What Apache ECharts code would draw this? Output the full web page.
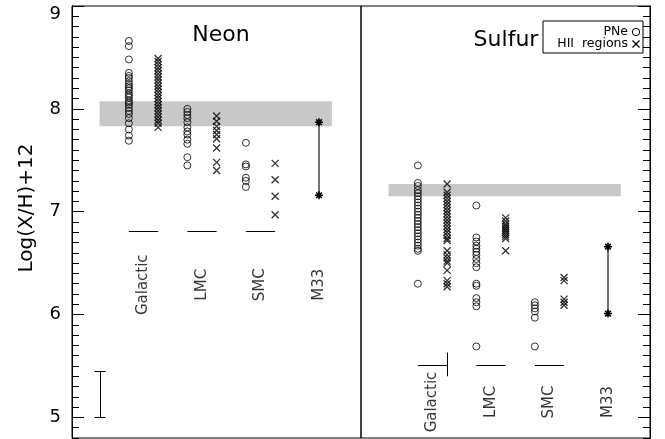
<!DOCTYPE html>
<html><head><meta charset="utf-8">
<script src="https://cdn.jsdelivr.net/npm/echarts@6/dist/echarts.min.js"></script>
<style>html,body{margin:0;padding:0;background:#fff}#c{width:665px;height:439px}</style>
</head><body><div id="c"></div>
<script>
// ---------- data ----------
const groups = ['Galactic', 'LMC', 'SMC', 'M33'];
const yTickLabels = [5, 6, 7, 8, 9];

// Neon panel
const neGalPNe = [8.66, 8.61, 8.48, 8.35, 8.32, 8.30, 8.27, 8.24, 8.22, 8.20, 8.18, 8.15, 8.13, 8.11, 8.08, 8.06, 8.04, 8.01, 7.98, 7.95, 7.91, 7.86, 7.80, 7.74, 7.69];
const neGalHII = [8.49, 8.46, 8.43, 8.40, 8.37, 8.34, 8.31, 8.28, 8.25, 8.22, 8.19, 8.16, 8.13, 8.10, 8.07, 8.04, 8.01, 7.98, 7.95, 7.92, 7.89, 7.86, 7.82];
const neLMCPNe = [8.00, 7.97, 7.94, 7.91, 7.87, 7.82, 7.78, 7.75, 7.70, 7.66, 7.53, 7.45];
const neLMCHII = [7.93, 7.88, 7.83, 7.79, 7.75, 7.71, 7.62, 7.48, 7.40];
const neSMCPNe = [7.67, 7.46, 7.44, 7.33, 7.30, 7.24];
const neSMCHII = [7.47, 7.31, 7.15, 6.97];
const neM33 = [7.16, 7.87];
const neBand = [7.83, 8.075];

// Sulfur panel
const sGalPNe = [7.45, 7.28, 7.25, 7.21, 7.18, 7.15, 7.12, 7.09, 7.06, 7.03, 7.00, 6.97, 6.94, 6.91, 6.88, 6.85, 6.82, 6.79, 6.76, 6.73, 6.70, 6.67, 6.64, 6.62, 6.30];
const sGalHII = [7.27, 7.19, 7.16, 7.13, 7.10, 7.07, 7.04, 7.01, 6.98, 6.95, 6.92, 6.89, 6.86, 6.83, 6.80, 6.77, 6.74, 6.72, 6.62, 6.58, 6.55, 6.52, 6.50, 6.43, 6.33, 6.30, 6.27];
const sLMCPNe = [7.06, 6.75, 6.71, 6.67, 6.64, 6.61, 6.58, 6.54, 6.50, 6.46, 6.30, 6.28, 6.16, 6.12, 6.08, 5.69];
const sLMCHII = [6.94, 6.91, 6.88, 6.86, 6.84, 6.82, 6.80, 6.78, 6.76, 6.74, 6.62];
const sSMCPNe = [6.12, 6.09, 6.06, 6.03, 5.97, 5.69];
const sSMCHII = [6.36, 6.33, 6.15, 6.12, 6.09];
const sM33 = [6.01, 6.66];
const sBand = [7.15, 7.27];

const errBar = [5.0, 5.45];
const neBaseline = 6.81;
const sBaseline = 5.51;

// ---------- layout / style config ----------
const FONT = 'DejaVu Sans';
const X_MIN = -0.222, X_MAX = 4.718;
const OFF = 0.25;
const BAND_X = [0.25, 4.22];
const ERR_X = 0.257, CAP = 0.095;
const LABEL_Y = [6.29, 5.15];
const Y_MIN = 4.8, Y_MAX = 9;
const minorTicks = [];
for (let i = 48; i <= 90; i++) { if (i % 10 !== 0) minorTicks.push(i / 10); }

const crossPath = 'path://M0,0L10,10M10,0L0,10';
const starPath = 'path://M0,5L10,5M5,0L5,10M1.5,1.5L8.5,8.5M8.5,1.5L1.5,8.5';

function pts(vals, g, off) { return vals.map(v => [g + 1 + off, v]); }

function circles(vals, g, panel) {
  return { type: 'scatter', xAxisIndex: panel, yAxisIndex: panel, z: 3,
    symbol: 'circle', symbolSize: 7,
    itemStyle: { color: 'rgba(0,0,0,0)', borderColor: '#000', borderWidth: 1 },
    data: pts(vals, g, -OFF) };
}
function crosses(vals, g, panel) {
  return { type: 'scatter', xAxisIndex: panel, yAxisIndex: panel, z: 3,
    symbol: crossPath, symbolSize: 7,
    itemStyle: { color: 'rgba(0,0,0,0)', borderColor: '#000', borderWidth: 1.3 },
    data: pts(vals, g, OFF) };
}
function m33(vals, panel, band, baseline, extra) {
  const lines = [0, 1, 2].map(g => [{ coord: [g + 1 - OFF, baseline] }, { coord: [g + 1 + OFF, baseline] }]);
  return { type: 'line', xAxisIndex: panel, yAxisIndex: panel, z: 3,
    symbol: starPath, symbolSize: 8, showSymbol: true,
    lineStyle: { color: '#444', width: 1.5 },
    itemStyle: { color: '#000', borderColor: '#000', borderWidth: 1.6 },
    data: vals.map(v => [4, v]),
    markArea: { silent: true, z: 1, itemStyle: { color: '#c8c8c8' },
      data: [[{ coord: [BAND_X[0], band[0]] }, { coord: [BAND_X[1], band[1]] }]] },
    markLine: { silent: true, symbol: ['none', 'none'], label: { show: false },
      lineStyle: { color: '#000', width: 1, type: 'solid' },
      data: lines.concat(extra) }
  };
}
function labels(panel) {
  return { type: 'scatter', xAxisIndex: panel, yAxisIndex: panel, z: 4,
    symbolSize: 1, itemStyle: { color: 'rgba(0,0,0,0)' },
    label: { show: true, position: 'inside', rotate: 90, formatter: '{b}',
      fontFamily: FONT, fontSize: 15, color: '#000', align: 'center', verticalAlign: 'middle' },
    data: groups.map((n, g) => ({ name: n, value: [g + 1, LABEL_Y[panel]] })) };
}

const errLines = [
  [{ coord: [ERR_X, errBar[0]] }, { coord: [ERR_X, errBar[1]] }],
  [{ coord: [ERR_X - CAP, errBar[0]] }, { coord: [ERR_X + CAP, errBar[0]] }],
  [{ coord: [ERR_X - CAP, errBar[1]] }, { coord: [ERR_X + CAP, errBar[1]] }]
];
const galTick = [[{ coord: [1 + OFF, 5.40] }, { coord: [1 + OFF, 5.63] }]];

function majorAxis(grid, pos, showLabel) {
  return { gridIndex: grid, type: 'value', min: Y_MIN, max: Y_MAX, position: pos,
    axisLine: { show: true, onZero: false, lineStyle: { color: '#000' } },
    axisTick: { show: true, inside: false, length: -12, customValues: yTickLabels, lineStyle: { color: '#000' } },
    axisLabel: { show: showLabel, customValues: yTickLabels, margin: 11, fontFamily: FONT, fontSize: 18, color: '#000',
      formatter: v => (v === 9 ? '{t|9}' : String(v)),
      rich: { t: { padding: [16, 0, 0, 0], fontFamily: FONT, fontSize: 18, color: '#000' } } },
    splitLine: { show: false } };
}
function minorAxis(grid, pos) {
  return { gridIndex: grid, type: 'value', min: Y_MIN, max: Y_MAX, position: pos,
    axisLine: { show: true, onZero: false, lineStyle: { color: '#000' } },
    axisTick: { show: true, inside: false, length: -7, customValues: minorTicks, lineStyle: { color: '#000' } },
    axisLabel: { show: false }, splitLine: { show: false } };
}

const gridBox = (left, show) => ({ left: left, top: 6, width: 289, height: 432, show: show, borderColor: '#000', borderWidth: 1 });

const option = {
  animation: false,
  grid: [gridBox(72, true), gridBox(361, true), gridBox(72, false), gridBox(361, false)],
  xAxis: [0, 1, 2, 3].map(i => ({ gridIndex: i, type: 'value', min: X_MIN, max: X_MAX, show: false })),
  yAxis: [majorAxis(0, 'left', true), majorAxis(1, 'right', false), minorAxis(2, 'left'), minorAxis(3, 'right')],
  series: [
    m33(neM33, 0, neBand, neBaseline, errLines),
    circles(neGalPNe, 0, 0), crosses(neGalHII, 0, 0),
    circles(neLMCPNe, 1, 0), crosses(neLMCHII, 1, 0),
    circles(neSMCPNe, 2, 0), crosses(neSMCHII, 2, 0),
    labels(0),
    m33(sM33, 1, sBand, sBaseline, galTick),
    circles(sGalPNe, 0, 1), crosses(sGalHII, 0, 1),
    circles(sLMCPNe, 1, 1), crosses(sLMCHII, 1, 1),
    circles(sSMCPNe, 2, 1), crosses(sSMCHII, 2, 1),
    labels(1),
    { type: 'scatter', xAxisIndex: 2, yAxisIndex: 2, symbolSize: 0, data: [] },
    { type: 'scatter', xAxisIndex: 3, yAxisIndex: 3, symbolSize: 0, data: [] }
  ],
  graphic: [
    { type: 'text', x: 221, y: 35, style: { text: 'Neon', fontFamily: FONT, fontSize: 22, fill: '#000', textAlign: 'center', textVerticalAlign: 'middle' } },
    { type: 'text', x: 506, y: 40, style: { text: 'Sulfur', fontFamily: FONT, fontSize: 22, fill: '#000', textAlign: 'center', textVerticalAlign: 'middle' } },
    { type: 'text', x: 27, y: 208, rotation: Math.PI / 2, style: { text: 'Log(X/H)+12', fontFamily: FONT, fontSize: 20, fill: '#000', textAlign: 'center', textVerticalAlign: 'middle' } },
    { type: 'rect', shape: { x: 543, y: 21, width: 100, height: 32 }, style: { fill: '#fff', stroke: '#000', lineWidth: 1 } },
    { type: 'text', x: 628, y: 32, style: { text: 'PNe', fontFamily: FONT, fontSize: 12.5, fill: '#000', textAlign: 'right', textVerticalAlign: 'middle' } },
    { type: 'text', x: 628, y: 44, style: { text: 'HII  regions', fontFamily: FONT, fontSize: 12.5, fill: '#000', textAlign: 'right', textVerticalAlign: 'middle' } },
    { type: 'circle', shape: { cx: 636, cy: 32, r: 3.7 }, style: { fill: 'none', stroke: '#000', lineWidth: 1 } },
    { type: 'polyline', shape: { points: [[632.5, 40.5], [639.5, 47.5]] }, style: { stroke: '#000', lineWidth: 1.3 } },
    { type: 'polyline', shape: { points: [[639.5, 40.5], [632.5, 47.5]] }, style: { stroke: '#000', lineWidth: 1.3 } }
  ]
};
echarts.init(document.getElementById('c')).setOption(option);
</script></body></html>
